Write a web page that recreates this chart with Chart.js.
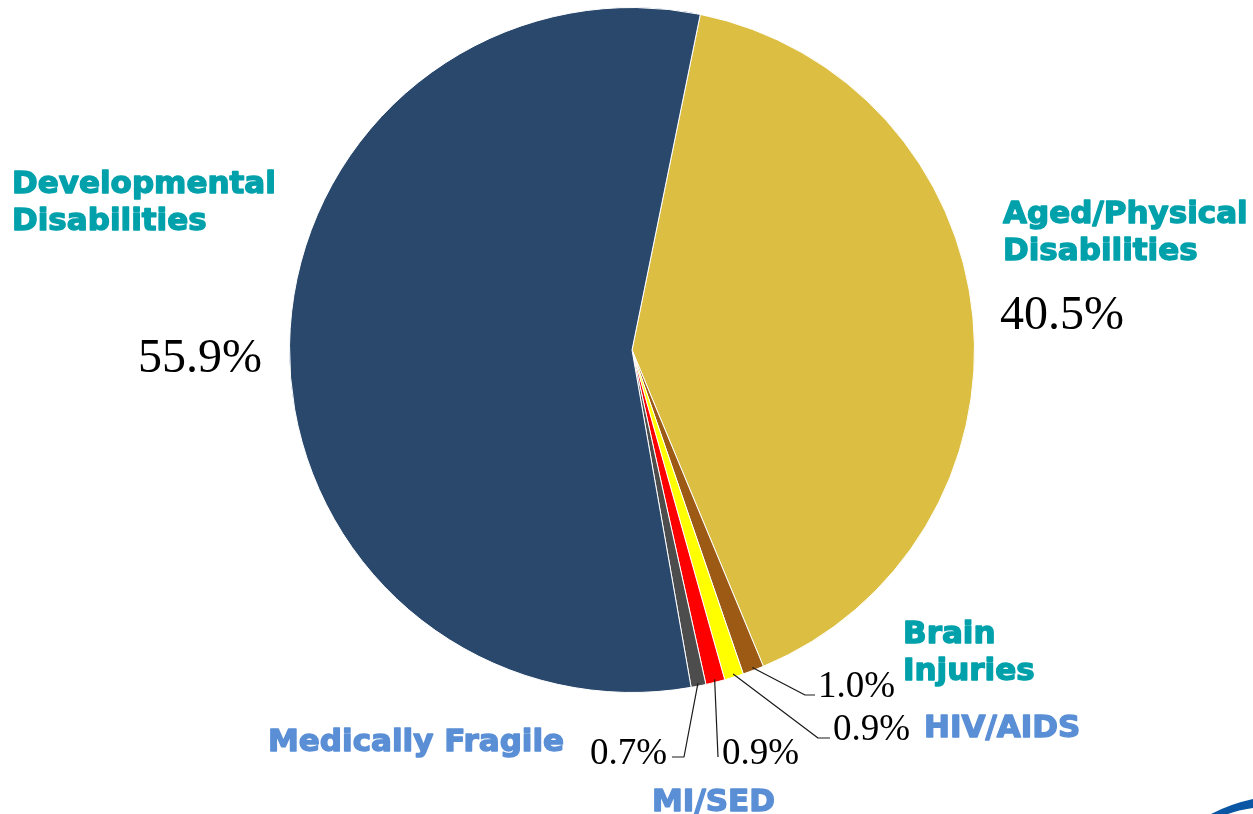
<!DOCTYPE html>
<html>
<head>
<meta charset="utf-8">
<script src="https://cdn.jsdelivr.net/npm/chart.js@4"></script>
<style>
  html, body { margin: 0; padding: 0; background: #fff; }
  #wrap { width: 1253px; height: 814px; position: relative; }
</style>
</head>
<body>
<div id="wrap"><canvas id="pieChart"></canvas></div>
<script>
// Data
const categories = ['Aged/Physical Disabilities', 'Brain Injuries', 'HIV/AIDS', 'MI/SED', 'Medically Fragile', 'Developmental Disabilities'];
const shares = [40.5, 1.0, 0.9, 0.9, 0.7, 55.9];
const sliceColors = ['#dcbf42', '#9c5a14', '#ffff00', '#ff0000', '#4d4d4d', '#29486c'];

const TEAL = '#00a1ab';
const LIGHT_BLUE = '#5a8fd6';

// label layout: category text lines, percent text and leader line elbows
const labelLayout = [
    { lines: ['Aged/Physical', 'Disabilities'], x: 1003, y: 223, color: TEAL,
      pct: { x: 1000, y: 329, size: 48, align: 'left' } },
    { lines: ['Brain', 'Injuries'], x: 903, y: 643, color: TEAL,
      pct: { x: 818, y: 697, size: 37, align: 'left' }, leader: [[805, 695], [815, 695]] },
    { lines: ['HIV/AIDS'], x: 924, y: 737, color: LIGHT_BLUE,
      pct: { x: 833, y: 740, size: 37, align: 'left' }, leader: [[818, 738], [830, 738]] },
    { lines: ['MI/SED'], x: 652, y: 811, color: LIGHT_BLUE,
      pct: { x: 722, y: 764, size: 37, align: 'left' }, leader: [[718, 757]] },
    { lines: ['Medically Fragile'], x: 268, y: 751, color: LIGHT_BLUE,
      pct: { x: 667, y: 764, size: 37, align: 'right' }, leader: [[684, 757], [672, 757]] },
    { lines: ['Developmental', 'Disabilities'], x: 12, y: 193, color: TEAL,
      pct: { x: 138, y: 372, size: 48, align: 'left' } }
];

const labelPlugin = {
    id: 'sliceLabels',
    afterDraw(chart) {
        const ctx = chart.ctx;
        const arcs = chart.getDatasetMeta(0).data;
        ctx.save();
        arcs.forEach((arc, i) => {
            const lay = labelLayout[i];
            const p = arc.getProps(['x', 'y', 'startAngle', 'endAngle', 'outerRadius'], true);
            // leader line from the slice edge
            if (lay.leader) {
                const mid = (p.startAngle + p.endAngle) / 2;
                const ax = p.x + Math.cos(mid) * (p.outerRadius - 3);
                const ay = p.y + Math.sin(mid) * (p.outerRadius - 3);
                ctx.beginPath();
                ctx.moveTo(ax, ay);
                lay.leader.forEach(pt => ctx.lineTo(pt[0], pt[1]));
                ctx.strokeStyle = '#1a1a1a';
                ctx.lineWidth = 1.2;
                ctx.stroke();
            }
            // percent value
            ctx.fillStyle = '#000';
            ctx.font = lay.pct.size + 'px "Liberation Serif", serif';
            ctx.textAlign = lay.pct.align;
            ctx.textBaseline = 'alphabetic';
            ctx.fillText(shares[i].toFixed(1) + '%', lay.pct.x, lay.pct.y);
            // category name (stroked a little to get the heavy look)
            ctx.fillStyle = lay.color;
            ctx.strokeStyle = lay.color;
            ctx.lineWidth = 1.4;
            ctx.lineJoin = 'round';
            ctx.font = 'bold 31px "DejaVu Sans", sans-serif';
            ctx.textAlign = 'left';
            lay.lines.forEach((line, k) => {
                ctx.fillText(line, lay.x, lay.y + k * 37);
                ctx.strokeText(line, lay.x, lay.y + k * 37);
            });
        });

        // blue swoosh in the corner
        ctx.beginPath();
        ctx.moveTo(1211, 814);
        ctx.quadraticCurveTo(1230, 804, 1253, 799);
        ctx.lineTo(1253, 808);
        ctx.quadraticCurveTo(1238, 810, 1228, 814);
        ctx.closePath();
        ctx.fillStyle = '#0b56a4';
        ctx.fill();
        ctx.restore();
    }
};

const ctx = document.getElementById('pieChart').getContext('2d');
const pieChart = new Chart(ctx, {
    type: 'pie',
    data: {
        labels: categories,
        datasets: [{
            data: shares,
            backgroundColor: sliceColors,
            borderColor: '#ffffff',
            borderWidth: 1
        }]
    },
    options: {
        responsive: true,
        maintainAspectRatio: false,
        animation: false,
        rotation: 11.5,
        layout: {
            padding: { left: 289, right: 278, top: 7, bottom: 121 }
        },
        plugins: {
            legend: { display: false },
            tooltip: { enabled: false }
        }
    },
    plugins: [labelPlugin]
});
</script>
</body>
</html>
